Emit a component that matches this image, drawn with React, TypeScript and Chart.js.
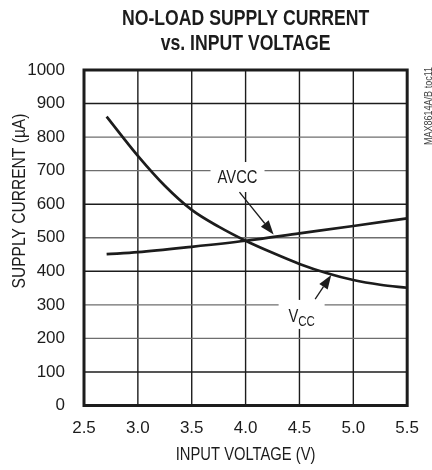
import React, { useEffect, useRef } from "react";
import { Chart, registerables } from "chart.js";

Chart.register(...registerables);

// ---- data ----
const vccVoltage = [2.71, 3.0, 3.25, 3.5, 3.75, 4.0, 4.25, 4.5, 4.75, 5.0, 5.25, 5.5];
const vccCurrent = [861, 744, 655, 583, 533, 491, 455, 422, 395, 374, 360, 351];
const avccVoltage = [2.71, 3.0, 3.5, 4.0, 4.5, 5.0, 5.5];
const avccCurrent = [451, 457, 473, 491, 513, 535, 558];

const titleLines = ["NO-LOAD SUPPLY CURRENT", "vs. INPUT VOLTAGE"];
const xTitle = "INPUT VOLTAGE (V)";
const yTitle = "SUPPLY CURRENT (\u00b5A)";
const sideNote = "MAX8614A/B toc11";

const SANS = "'Liberation Sans', Arial, sans-serif";
const INK = "#1c1c1c";
const SQ = 0.82; // horizontal squeeze for narrow-looking text

// annotation anchors in data units (label centre, arrow tail, arrow tip)
const avccNote = { label: [3.925, 681], tail: [3.943, 636], tip: [4.26, 510] };
const vccNote = { label: [4.52, 267], tail: [4.646, 317], tip: [4.795, 389] };

const darkRows = new Set([100, 400, 600, 900]);

function narrowText(ctx: CanvasRenderingContext2D, text: string, x: number, y: number, font: string, align: CanvasTextAlign = "center", baseline: CanvasTextBaseline = "middle") {
  ctx.save();
  ctx.font = font;
  ctx.textAlign = align;
  ctx.textBaseline = baseline;
  ctx.translate(x, y);
  ctx.scale(SQ, 1);
  ctx.fillText(text, 0, 0);
  ctx.restore();
}

function arrow(ctx: CanvasRenderingContext2D, x1: number, y1: number, x2: number, y2: number) {
  const ang = Math.atan2(y2 - y1, x2 - x1);
  const len = 14;
  const hw = 5;
  const bx = x2 - len * Math.cos(ang);
  const by = y2 - len * Math.sin(ang);
  ctx.save();
  ctx.strokeStyle = INK;
  ctx.fillStyle = INK;
  ctx.lineWidth = 1.3;
  ctx.beginPath();
  ctx.moveTo(x1, y1);
  ctx.lineTo(bx, by);
  ctx.stroke();
  ctx.beginPath();
  ctx.moveTo(x2, y2);
  ctx.lineTo(bx + hw * Math.sin(ang), by - hw * Math.cos(ang));
  ctx.lineTo(bx - hw * Math.sin(ang), by + hw * Math.cos(ang));
  ctx.closePath();
  ctx.fill();
  ctx.restore();
}

const decorPlugin = {
  id: "decor",
  beforeDatasetsDraw(chart: any) {
    const { ctx, chartArea, scales } = chart;
    const xs = scales.x;
    const ys = scales.y;
    const L = chartArea.left;
    const R = chartArea.right;
    const T = chartArea.top;
    const B = chartArea.bottom;
    ctx.save();
    ctx.lineWidth = 1.4;
    // vertical grid
    xs.ticks.forEach((t: any) => {
      const x = xs.getPixelForValue(t.value);
      ctx.strokeStyle = INK;
      ctx.beginPath();
      ctx.moveTo(x, T);
      ctx.lineTo(x, B);
      ctx.stroke();
    });
    // horizontal grid
    ys.ticks.forEach((t: any) => {
      const y = ys.getPixelForValue(t.value);
      ctx.strokeStyle = darkRows.has(t.value) ? INK : "#6e6e6e";
      ctx.beginPath();
      ctx.moveTo(L, y);
      ctx.lineTo(R, y);
      ctx.stroke();
    });
    // label boxes (white, breaking grid lines)
    ctx.fillStyle = "#ffffff";
    let cx = xs.getPixelForValue(avccNote.label[0]);
    let cy = ys.getPixelForValue(avccNote.label[1]);
    ctx.fillRect(cx - 27, cy - 15, 54, 30);
    cx = xs.getPixelForValue(vccNote.label[0]);
    cy = ys.getPixelForValue(vccNote.label[1]);
    ctx.fillRect(cx - 23, cy - 16, 46, 29);
    ctx.restore();
  },
  afterDatasetsDraw(chart: any) {
    const { ctx, chartArea, scales } = chart;
    const xs = scales.x;
    const ys = scales.y;
    const px = (p: number[]) => [xs.getPixelForValue(p[0]), ys.getPixelForValue(p[1])];
    const L = chartArea.left;
    const R = chartArea.right;
    const T = chartArea.top;
    const B = chartArea.bottom;

    ctx.save();
    // frame
    ctx.strokeStyle = INK;
    ctx.lineWidth = 3;
    ctx.strokeRect(L, T, R - L, B - T);

    ctx.fillStyle = INK;
    // AVCC label
    let [lx, ly] = px(avccNote.label);
    narrowText(ctx, "AVCC", lx, ly + 1, `18px ${SANS}`);
    let [tx, ty] = px(avccNote.tail);
    let [hx, hy] = px(avccNote.tip);
    arrow(ctx, tx, ty, hx, hy);

    // VCC label with subscript
    [lx, ly] = px(vccNote.label);
    ctx.font = `18px ${SANS}`;
    const wV = ctx.measureText("V").width * SQ;
    ctx.font = `14px ${SANS}`;
    const wCC = ctx.measureText("CC").width * SQ;
    const startX = lx - (wV + wCC) / 2;
    ctx.fillStyle = INK;
    narrowText(ctx, "V", startX, ly + 6, `18px ${SANS}`, "left", "alphabetic");
    narrowText(ctx, "CC", startX + wV, ly + 10, `14px ${SANS}`, "left", "alphabetic");
    [tx, ty] = px(vccNote.tail);
    [hx, hy] = px(vccNote.tip);
    arrow(ctx, tx, ty, hx, hy);

    // titles
    ctx.fillStyle = INK;
    const midX = (L + R) / 2;
    narrowText(ctx, titleLines[0], midX, 19, `bold 21.5px ${SANS}`);
    narrowText(ctx, titleLines[1], midX, 44, `bold 21.5px ${SANS}`);

    // x-axis title
    narrowText(ctx, xTitle, midX, 455, `18px ${SANS}`);

    // y-axis title
    ctx.save();
    ctx.translate(20, 201);
    ctx.rotate(-Math.PI / 2);
    narrowText(ctx, yTitle, 0, 0, `19px ${SANS}`);
    ctx.restore();

    // side note
    ctx.save();
    ctx.translate(429, 106);
    ctx.rotate(-Math.PI / 2);
    ctx.fillStyle = "#444";
    narrowText(ctx, sideNote, 0, 0, `11px ${SANS}`);
    ctx.restore();

    ctx.restore();
  },
};

export default function App() {
  const ref = useRef<HTMLCanvasElement | null>(null);
  useEffect(() => {
    document.body.style.margin = "0";
    const canvas = ref.current;
    if (!canvas) return;
    const chart = new Chart(canvas, {
      type: "scatter",
      data: {
        datasets: [
          {
            label: "VCC",
            data: vccVoltage.map((v, i) => ({ x: v, y: vccCurrent[i] })),
            showLine: true,
            fill: false,
            borderColor: INK,
            borderWidth: 2.7,
            pointRadius: 0,
            cubicInterpolationMode: "monotone",
          },
          {
            label: "AVCC",
            data: avccVoltage.map((v, i) => ({ x: v, y: avccCurrent[i] })),
            showLine: true,
            fill: false,
            borderColor: INK,
            borderWidth: 2.7,
            pointRadius: 0,
            cubicInterpolationMode: "monotone",
          },
        ],
      },
      options: {
        animation: false,
        responsive: false,
        maintainAspectRatio: false,
        layout: { padding: { top: 70, right: 11, bottom: 0, left: 0 } },
        plugins: {
          legend: { display: false },
          tooltip: { enabled: false },
          title: { display: false },
        },
        scales: {
          x: {
            type: "linear",
            min: 2.5,
            max: 5.5,
            afterFit: (s: any) => {
              s.height = 64.5;
            },
            ticks: {
              stepSize: 0.5,
              color: INK,
              padding: 13,
              font: { family: SANS, size: 17 },
              callback: (v: any) => Number(v).toFixed(1),
            },
            grid: { display: false, drawTicks: false },
            border: { display: false },
            title: { display: false },
          },
          y: {
            type: "linear",
            min: 0,
            max: 1000,
            afterFit: (s: any) => {
              s.width = 84;
            },
            ticks: {
              stepSize: 100,
              color: INK,
              padding: 19,
              font: { family: SANS, size: 17 },
              callback: (v: any) => String(v),
            },
            grid: { display: false, drawTicks: false },
            border: { display: false },
          },
        },
      },
      plugins: [decorPlugin],
    } as any);
    return () => chart.destroy();
  }, []);
  return (
    <div style={{ position: "absolute", left: 0, top: 0, width: 432, height: 470 }}>
      <canvas ref={ref} width={432} height={470} style={{ width: 432, height: 470 }} />
    </div>
  );
}
